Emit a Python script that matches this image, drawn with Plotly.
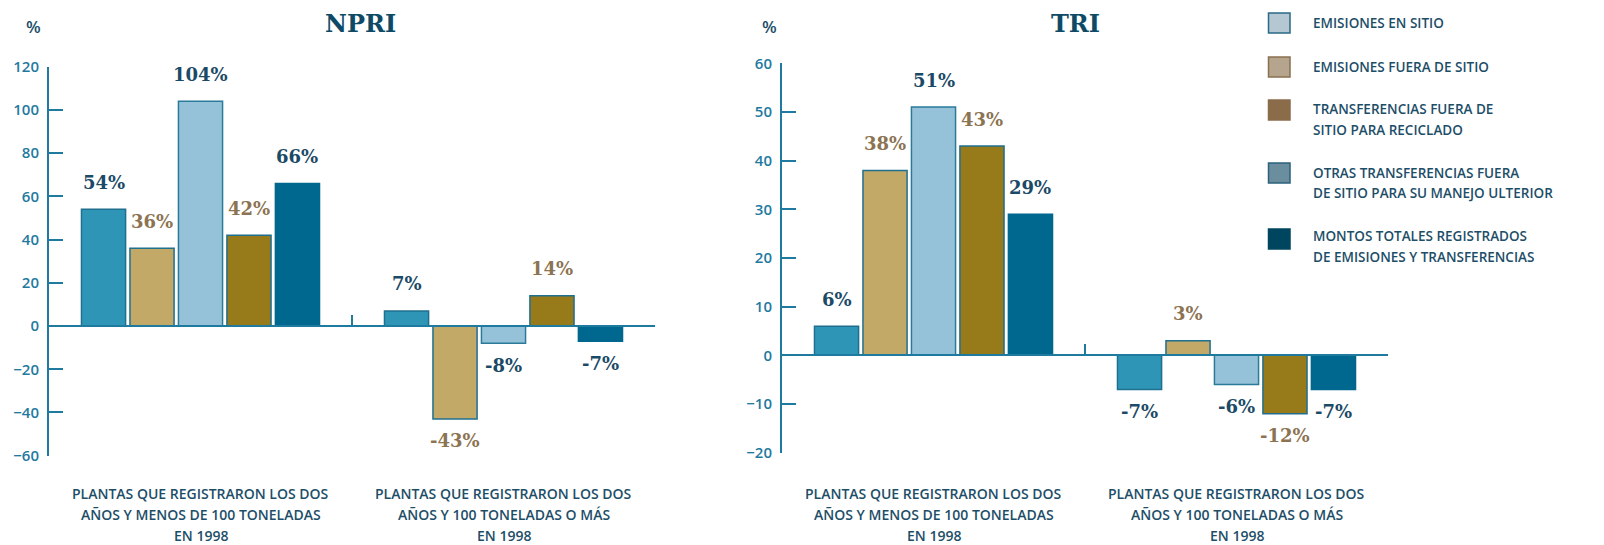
import plotly.graph_objects as go

# ---------------- data ----------------
categories = [
    "PLANTAS QUE REGISTRARON LOS DOS<br>AÑOS Y MENOS DE 100 TONELADAS<br>EN 1998",
    "PLANTAS QUE REGISTRARON LOS DOS<br>AÑOS Y 100 TONELADAS O MÁS<br>EN 1998",
]
series_names = [
    "EMISIONES EN SITIO",
    "EMISIONES FUERA DE SITIO",
    "TRANSFERENCIAS FUERA DE<br>SITIO PARA RECICLADO",
    "OTRAS TRANSFERENCIAS FUERA<br>DE SITIO PARA SU MANEJO ULTERIOR",
    "MONTOS TOTALES REGISTRADOS<br>DE EMISIONES Y TRANSFERENCIAS",
]
npri_s1 = [54, 7]
npri_s2 = [36, -43]
npri_s3 = [104, -8]
npri_s4 = [42, 14]
npri_s5 = [66, -7]
tri_s1 = [6, -7]
tri_s2 = [38, 3]
tri_s3 = [51, -6]
tri_s4 = [43, -12]
tri_s5 = [29, -7]
npri_ticks = [-60, -40, -20, 0, 20, 40, 60, 80, 100, 120]
tri_ticks = [-20, -10, 0, 10, 20, 30, 40, 50, 60]
titles = ["NPRI", "TRI"]

# ---------------- style ----------------
W, H = 1604, 545
bar_colors = ["#2e95b7", "#c2a968", "#96c2d9", "#977a19", "#00678e"]
bar_lines = ["#1f6f8f", "#1f6f8f", "#2a7a9a", "#1f6f8f", "#00678e"]
label_colors = ["#1b4a66", "#8c7352", "#1b4a66", "#8c7352", "#1b4a66"]
legend_fill = ["#b4c7d3", "#b5a48e", "#8a6c4b", "#6b8e9f", "#00455f"]
legend_line = ["#2a6a88", "#8b6f4f", "#8a6c4b", "#2d627c", "#00455f"]
teal = "#1f7aa0"
dark = "#1d4e68"
sans = "Open Sans, sans-serif"
serif = "DejaVu Serif, serif"
sans_w = 600
bargap, bargroupgap = 0.2, 0.09


def px_x(px):
    return px / W


def px_y(py):
    return 1 - py / H


fig = go.Figure()

panels = [
    dict(vals=[npri_s1, npri_s2, npri_s3, npri_s4, npri_s5], ticks=npri_ticks,
         xpx=(49, 655), ypx=(66.7, 455.7), title_x=360, pct_x=33.5, ax=""),
    dict(vals=[tri_s1, tri_s2, tri_s3, tri_s4, tri_s5], ticks=tri_ticks,
         xpx=(782, 1388), ypx=(63.3, 452.7), title_x=1075, pct_x=769.5, ax="2"),
]
cat_line_y = [493, 514.5, 535]

annotations = []
for p, title in zip(panels, titles):
    xa = "x" + p["ax"]
    ya = "y" + p["ax"]
    for i, (vals, name) in enumerate(zip(p["vals"], series_names)):
        fig.add_trace(go.Bar(
            x=categories, y=vals, name=name, xaxis=xa, yaxis=ya,
            marker=dict(color=bar_colors[i], line=dict(color=bar_lines[i], width=1.5)),
            showlegend=False, hoverinfo="skip",
        ))
    ymin, ymax = p["ticks"][0], p["ticks"][-1]
    xdom = [px_x(p["xpx"][0]), px_x(p["xpx"][1])]
    ydom = [px_y(p["ypx"][1]), px_y(p["ypx"][0])]
    zero_pos = ydom[0] + (0 - ymin) / (ymax - ymin) * (ydom[1] - ydom[0])
    key = "axis" + p["ax"]
    fig.layout["x" + key] = dict(
        domain=xdom, type="category", range=[-0.5, 1.5], anchor="free",
        position=zero_pos, showline=True, linecolor=teal, linewidth=2,
        ticks="inside", tickson="boundaries", ticklen=10, tickwidth=2, tickcolor=teal,
        showticklabels=False, showgrid=False, zeroline=False, fixedrange=True,
    )
    fig.layout["y" + key] = dict(
        domain=ydom, range=[ymin, ymax], tickvals=p["ticks"], anchor=xa,
        showline=True, linecolor=teal, linewidth=2, ticks="inside", ticklen=14,
        tickwidth=2, tickcolor=teal, showgrid=False, zeroline=False,
        tickfont=dict(family=sans, size=15, color=teal, weight=sans_w),
        ticklabelstandoff=5, automargin=False, fixedrange=True,
    )
    # value labels
    axis_px = p["xpx"][1] - p["xpx"][0]
    slot = axis_px / len(categories) * (1 - bargap) / len(series_names)
    for i, vals in enumerate(p["vals"]):
        for c, v in zip(categories, vals):
            annotations.append(dict(
                x=c, y=v, xref=xa, yref=ya, text=f"<b>{v}%</b>", showarrow=False,
                xshift=(i - 2) * slot, yshift=27 if v >= 0 else -22,
                font=dict(family=serif, size=18, color=label_colors[i]),
                xanchor="center", yanchor="middle",
            ))
    # category labels, one annotation per line
    for c in categories:
        for line, ly in zip(c.split("<br>"), cat_line_y):
            annotations.append(dict(
                x=c, y=px_y(ly), xref=xa, yref="paper", text=line, showarrow=False,
                font=dict(family=sans, size=14, color=dark, weight=sans_w),
                xanchor="center", yanchor="middle",
            ))
    annotations.append(dict(
        x=px_x(p["title_x"]), y=px_y(23), xref="paper", yref="paper",
        text=f"<b>{title}</b>", showarrow=False,
        font=dict(family=serif, size=24, color="#0e4a66"),
        xanchor="center", yanchor="middle",
    ))
    annotations.append(dict(
        x=px_x(p["pct_x"]), y=px_y(26), xref="paper", yref="paper",
        text="%", showarrow=False,
        font=dict(family=sans, size=17, color=dark, weight=sans_w),
        xanchor="center", yanchor="middle",
    ))

# legend (drawn manually: swatch colours differ from bar colours in the original)
shapes = []
sw_centers = [23, 67, 110, 173, 239]
txt_line_y = [[23], [67], [109, 130], [173, 193.5], [236, 257]]
for i, name in enumerate(series_names):
    cy = sw_centers[i]
    shapes.append(dict(
        type="rect", xref="paper", yref="paper",
        x0=px_x(1268.5), x1=px_x(1290), y0=px_y(cy + 10), y1=px_y(cy - 10),
        fillcolor=legend_fill[i], line=dict(color=legend_line[i], width=1.5),
    ))
    for line, ly in zip(name.split("<br>"), txt_line_y[i]):
        annotations.append(dict(
            x=px_x(1311), y=px_y(ly), xref="paper", yref="paper",
            text=line, showarrow=False, align="left",
            font=dict(family=sans, size=13.5, color=dark, weight=sans_w),
            xanchor="left", yanchor="middle",
        ))

fig.update_layout(
    width=W, height=H, margin=dict(l=0, r=0, t=0, b=0),
    paper_bgcolor="white", plot_bgcolor="white",
    barmode="group", bargap=bargap, bargroupgap=bargroupgap,
    annotations=annotations, shapes=shapes, showlegend=False,
)

fig.write_html(
    "out.html",
    config={"displayModeBar": False},
    post_script="document.body.style.margin='0';document.body.style.overflow='hidden';",
)
